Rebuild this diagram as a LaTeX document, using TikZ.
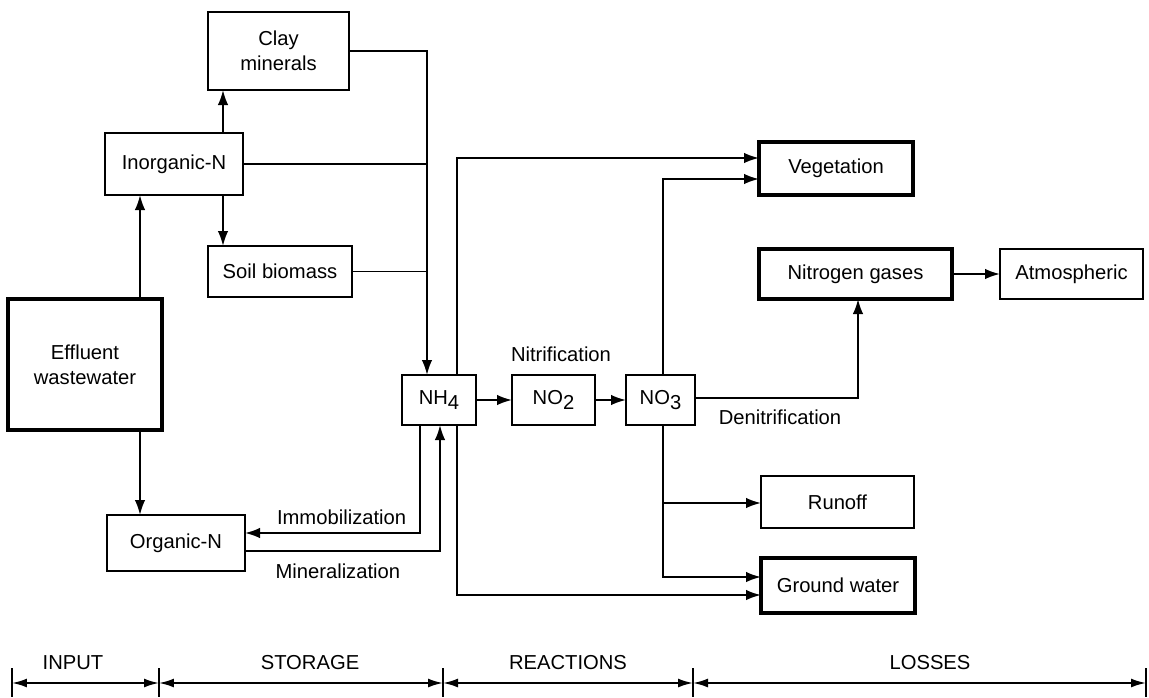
\documentclass[tikz,border=0pt]{standalone}
\usepackage{fontspec}
\setmainfont{Liberation Sans}
\usetikzlibrary{arrows,arrows.meta,calc,positioning}
\newcommand{\lowsub}[1]{\raisebox{-0.55ex}{#1}}

\begin{document}
\begin{tikzpicture}[x=0.02cm,y=-0.02cm,line width=1.1pt,
  every node/.style={font=\fontsize{11.5}{14}\selectfont},
  block/.style={draw,rectangle,align=center,inner sep=0pt,outer sep=0pt},
  pool/.style={block,line width=2.4pt},
  wh/.style 2 args={minimum width=#1*0.02cm,minimum height=#2*0.02cm},
  arr/.style={-{Latex[length=3mm,width=2.1mm]}},
  span/.style={{Latex[length=3mm,width=1.8mm]}-{Latex[length=3mm,width=1.8mm]}}]

  \useasboundingbox (0,0) rectangle (1149,697);

        \node[block,wh={141}{78}] (clay) at (278.5,51) {Clay\\minerals};
        \node[block,wh={138}{62}] (inorg) at (174,164) {Inorganic-N};
        \node[block,wh={144}{51}] (soil) at (280,271.5) {Soil biomass};
        \node[pool,wh={154}{131}] (effl) at (85,364.5) {Effluent\\wastewater};
        \node[block,wh={138}{56}] (org) at (176,543) {Organic-N};

        \node[block,wh={74}{50}] (nh4) at (439,400) {NH\lowsub{4}};
        \node[block,wh={83}{50}] (no2) at (553.5,400) {NO\lowsub{2}};
        \node[block,wh={69}{50}] (no3) at (660.5,400) {NO\lowsub{3}};

        \node[pool,wh={154}{53}] (veg) at (836,168.5) {Vegetation};
        \node[pool,wh={193}{50}] (ngas) at (855.5,274) {Nitrogen gases};
        \node[block,wh={143}{50}] (atm) at (1071.5,274) {Atmospheric};
        \node[block,wh={153}{52}] (runoff) at (837.5,502) {Runoff};
        \node[pool,wh={154}{55}] (gw) at (838,585.5) {Ground water};

        \node (nitr) at (561,354) {Nitrification};
        \node[anchor=west] (denitr) at (712,417) {Denitrification};
        \node[anchor=east] (immob) at (413,517) {Immobilization};
        \node[anchor=east] (miner) at (407,571) {Mineralization};

        % storage pools into NH4
        \coordinate (cx) at (427,0);
        \coordinate (ix) at (223,0);
        \coordinate (ex) at (140,0);
        \draw[arr] (clay.east) -| (nh4.north -| cx);
        \draw (inorg.east) -- (inorg.east -| cx);
        \draw (soil.east) -- (soil.east -| cx);
        \draw[arr] (inorg.north -| ix) -- (clay.south -| ix);
        \draw[arr] (inorg.south -| ix) -- (soil.north -| ix);
        \draw[arr] (effl.north -| ex) -- (inorg.south -| ex);
        \draw[arr] (effl.south -| ex) -- (org.north -| ex);

        \coordinate (im) at (420,533);
        \coordinate (mi) at (440,551);
        \draw[arr] (nh4.south -| im) |- (org.east |- im);
        \draw[arr] (org.east |- mi) -| (nh4.south -| mi);

        % reactions and losses
        \coordinate (nv) at (457,158);
        \coordinate (ng) at (457,595);
        \coordinate (ov) at (663,179);
        \coordinate (oru) at (663,503);
        \coordinate (og) at (663,577);
        \coordinate (dn) at (858,398);
        \draw[arr] (nh4.north -| nv) |- (veg.west |- nv);
        \draw[arr] (nh4.south -| ng) |- (gw.west |- ng);
        \draw[arr] (nh4) -- (no2);
        \draw[arr] (no2) -- (no3);
        \draw[arr] (no3.north -| ov) |- (veg.west |- ov);
        \draw[arr] (no3.south -| oru) |- (runoff.west |- oru);
        \draw[arr] (no3.south -| og) |- (gw.west |- og);
        \draw[arr] (no3.east |- dn) -| (ngas.south -| dn);
        \draw[arr] (ngas) -- (atm);

        % scale
        \foreach \x in {12,159,443,693,1146}
          \draw (\x,668) -- (\x,697);
        \foreach \a/\b in {12/159,159/443,443/693,693/1146}
          \draw[span] (\a,683) -- (\b,683);
        \node (input) at (73,663) {INPUT};
        \node (storage) at (310,663) {STORAGE};
        \node (reactions) at (568,663) {REACTIONS};
        \node (losses) at (930,663) {LOSSES};
      \end{tikzpicture}
\end{document}
